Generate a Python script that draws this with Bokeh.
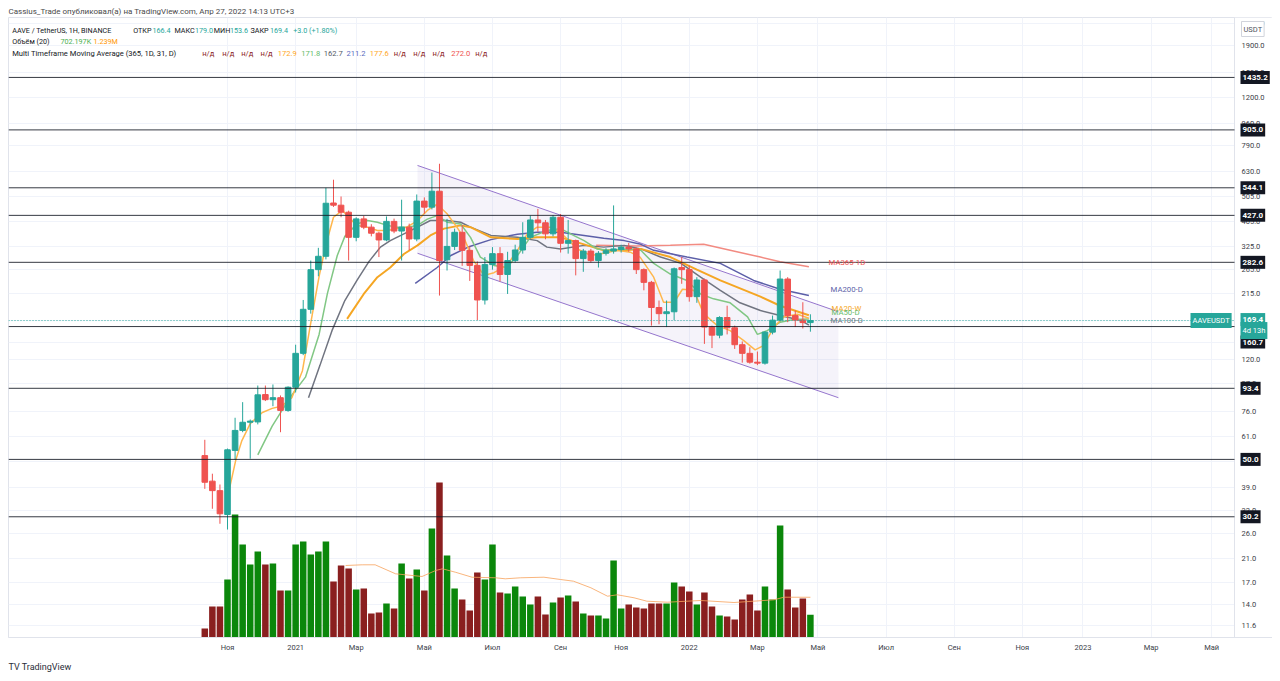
import math
from bokeh.plotting import figure
from bokeh.models import (Range1d, FixedTicker, PrintfTickFormatter, Span, Label, ColumnDataSource,
                          LinearScale, Title, BoxAnnotation)
from bokeh.embed import file_html
from bokeh.resources import INLINE

# ---------------- DATA (weekly AAVE/USDT, week 0 = 12 Oct 2020) ----------------
open_ = [51.7, 41.3, 38.0, 30.8, 54.1, 64.5, 69.3, 69.5, 88.4, 84.5,
         86.0, 76.9, 94.3, 127, 187, 265, 298, 476, 467, 439,
         352, 414, 385, 365, 344, 405, 372, 385, 347, 484,
         459, 528, 289, 325, 368, 314, 275, 203, 277, 305,
         254, 287, 315, 352, 410, 400, 363, 420, 334, 342,
         292, 312, 287, 306, 312, 316, 323, 318, 265, 237,
         190, 180, 183, 270, 265, 209, 242, 160, 149, 174,
         159, 137, 127, 117.5, 116.5, 153, 170, 244, 177, 170,
         166.4]
high = [59.4, 44.1, 40.1, 55.0, 72.1, 82.7, 71.0, 95.7, 95.7, 96.6,
        87.7, 95.0, 137, 203, 287, 321, 544, 584, 504, 445,
        420, 425, 395, 370, 423, 415, 490, 397, 513, 500,
        622, 672, 414, 380, 392, 325, 285, 296, 323, 323,
        310, 330, 402, 426, 452, 410, 428, 432, 410, 345,
        318, 318, 312, 320, 466, 330, 335, 322, 268, 240,
        202, 202, 270, 296, 275, 248, 245, 162, 176, 193,
        162, 141, 134, 129, 154, 177, 263, 248, 185, 199,
        179.0]
low = [38.6, 32.4, 28.4, 27.0, 49.8, 63.5, 50.3, 68.0, 83.5, 79.8,
       63.5, 76.0, 90, 125, 180, 250, 290, 460, 420, 287,
       340, 378, 355, 296, 340, 365, 287, 314, 340, 433,
       450, 211, 263, 315, 274, 240, 170, 195, 265, 239,
       214, 282, 305, 348, 370, 346, 355, 308, 305, 252,
       260, 282, 270, 300, 305, 308, 310, 255, 221, 162,
       164, 160, 170, 234, 200, 198, 138, 133, 145, 150,
       132, 117, 116, 114.5, 115, 150, 168, 167, 160, 158,
       153.6]
close = [40.9, 38.0, 31.0, 54.4, 64.5, 69.3, 70.0, 88.2, 84.5, 86.0,
         76.9, 94.3, 127, 187, 265, 298, 475, 467, 439, 352,
         414, 385, 365, 344, 405, 372, 385, 347, 484, 459,
         528, 287, 325, 368, 314, 275, 203, 277, 305, 254,
         287, 315, 352, 410, 400, 363, 420, 334, 342, 292,
         312, 287, 306, 313, 318, 323, 318, 265, 237, 190,
         180, 183, 267, 265, 209, 242, 160, 149, 174, 159,
         137, 127, 117.5, 116.5, 153, 170, 244, 177, 170, 166.4,
         169.4]
volume_k = [277, 955, 955, 1786, 3788, 2864, 2248, 2649, 2248, 2279,
            1448, 1448, 2864, 2957, 2556, 2649, 2957, 1725, 2218, 2125,
            1478, 1509, 739, 770, 1047, 893, 2279, 1817, 2094, 1448,
            3357, 4774, 2526, 1509, 1170, 832, 2002, 1786, 2864, 1386,
            1355, 1571, 1263, 1016, 1263, 708, 1078, 1232, 1294, 1109,
            739, 678, 678, 585, 2372, 893, 1016, 924, 893, 1047,
            1047, 1047, 1694, 1571, 1417, 1016, 1386, 955, 678, 647,
            554, 1170, 1324, 832, 1571, 1170, 3450, 1478, 924, 1201,
            702]
vol_ma_week = [18.6, 20.8, 22.5, 25.2, 28.7, 30.5, 31.4, 33.1, 35.3, 38.4, 39.7, 41.7, 44.8,
               47.0, 48.7, 51.0, 53.2, 54.5, 56.7, 58.4, 61.1, 65.5, 69.9, 72.5, 75.2, 76.5, 80.0]
vol_ma_k = [2218, 2239, 2239, 1962, 1879, 2064, 2116, 2011, 1857, 1839, 1808, 1839, 1857,
            1786, 1734, 1531, 1272, 1315, 1223, 1118, 1087, 1140, 1078, 1118, 1161, 1241, 1239]

# Moving averages (week index, price)
ma20d_week = [3.2, 4.1, 4.9, 6.0, 7.6, 8.9, 10.2, 11.5, 12.9, 13.9, 15.1, 16.0, 17.0, 18.2, 19.2,
              20.1, 21.5, 22.8, 24.1, 25.4, 26.7, 28.1, 29.4, 30.7, 32.0, 33.3, 34.2, 35.5, 36.9,
              38.2, 39.9, 41.3, 42.6, 43.9, 45.7, 47.4, 49.2, 51.0, 52.7, 54.5, 56.2, 57.5, 59.3,
              60.6, 62.0, 63.1, 64.6, 65.9, 67.7, 69.4, 71.2, 72.7, 73.8, 75.2, 76.5, 78.3, 79.8]
ma20d_val = [38, 49.8, 59, 68.5, 75.5, 78.3, 80, 86, 109, 160, 250, 330, 420, 446, 414,
             391, 385, 374, 374, 380, 385, 408, 446, 471, 433, 385, 352, 287, 252,
             258, 275, 314, 363, 385, 385, 358, 318, 300, 306, 314, 309, 296, 248,
             199, 199, 223, 221, 180, 162, 155, 142, 131, 136, 160, 175, 179, 172.9]
ma50d_week = [7.0, 8.9, 10.2, 11.5, 13.3, 15.1, 16.2, 17.5, 18.5, 20.1, 21.5, 22.8, 24.1, 25.4,
              26.7, 28.1, 29.4, 30.7, 32.0, 33.8, 35.1, 36.4, 38.2, 39.9, 41.3, 43.0, 45.2, 47.0,
              48.7, 50.1, 51.8, 53.6, 56.2, 57.6, 59.3, 61.5, 63.7, 65.5, 67.2, 69.4, 71.7, 73.0,
              74.3, 76.0, 77.8, 79.8]
ma50d_val = [52, 67, 77, 88, 103, 150, 215, 300, 355, 396, 408, 402, 391, 385,
             385, 391, 413, 426, 402, 396, 352, 296, 275, 270, 300, 352, 374, 380,
             358, 342, 318, 314, 318, 314, 280, 255, 241, 214, 205, 198, 175, 150,
             155, 167, 171, 171.8]
ma100d_week = [13.7, 15.2, 16.8, 18.5, 20.1, 21.7, 23.2, 24.5, 25.9, 28.1, 29.8, 32.0, 33.8, 35.1,
               37.8, 41.3, 43.9, 45.2, 47.0, 50.1, 52.7, 55.4, 57.6, 60.2, 62.9, 65.5, 68.1,
               70.7, 73.4, 76.0, 78.7, 79.8]
ma100d_val = [86, 114, 155, 202, 241, 285, 323, 342, 358, 385, 408, 408, 402, 385,
              358, 352, 342, 323, 318, 328, 323, 328, 318, 296, 280, 248, 221,
              198, 185, 177, 170, 162.7]
ma20w_week = [18.8, 21.0, 22.8, 24.5, 26.3, 28.1, 29.8, 31.6, 33.8, 35.1, 37.8, 41.3, 43.9, 47.0,
              50.1, 52.7, 55.4, 57.6, 61.5, 65.0, 68.1, 73.4, 76.0, 79.8]
ma20w_val = [172, 214, 248, 270, 304, 328, 358, 380, 391, 385, 352, 347, 352, 352,
             331, 314, 314, 318, 296, 265, 241, 209, 193, 177.6]
ma200d_week = [27.8, 30.7, 32.5, 35.0, 37.8, 41.3, 43.9, 47.0, 50.1, 52.7, 55.4, 57.6, 59.3,
               63.7, 68.1, 72.5, 76.0, 79.8]
ma200d_val = [235, 270, 300, 325, 345, 362, 368, 368, 358, 349, 342, 331, 314,
              296, 280, 241, 223, 211.2]
ma365_week = [51.7, 57.0, 61.5, 65.9, 69.4, 73.4, 76.0, 79.8]
ma365_val = [328, 326, 328, 331, 314, 296, 284, 272.0]

# Parallel channel drawing (week index, price)
channel_week = [28.1, 83.7]
channel_upper = [662, 183]
channel_lower = [306, 86]

levels = [1435.2, 905.0, 544.1, 427.0, 282.6, 160.7, 93.4, 50.0, 30.2]
last_price = 169.4

price_ticks = [2300, 1900, 1500, 1200, 960, 790, 630, 505, 405, 325, 265, 215, 170, 140,
               120, 97, 76, 61, 49, 39, 32, 26, 21, 17, 14, 11.6]
month_ticks = [3, 12, 20, 29, 38, 47, 55, 64, 73, 81, 90, 99, 108, 116, 125, 133]
month_labels = ["Ноя", "2021", "Мар", "Май", "Июл", "Сен", "Ноя", "2022", "Мар", "Май",
                "Июл", "Сен", "Ноя", "2023", "Мар", "Май"]

# ---------------- GEOMETRY ----------------
FONT = "Roboto"
FRAME_W, FRAME_H = 1264, 620          # frame also covers the price-scale strip
PAGE_LEFT, PAGE_TOP = 8, 17
SCALE_PX = 1234                       # left edge of the price scale strip
BAR0_PX = 204.3                       # page x of week 0
PX_WEEK = 7.57
PX_DEC = 262.0
LOG_TOP = math.log10(1900) + (45 - PAGE_TOP) / PX_DEC
LOG_BOT = LOG_TOP - FRAME_H / PX_DEC
X_START = (PAGE_LEFT - BAR0_PX) / PX_WEEK
X_END = (PAGE_LEFT + FRAME_W - BAR0_PX) / PX_WEEK
VOL_PER_PX = 30.8


def fx(px):
    return (px - BAR0_PX) / PX_WEEK


def fy(py):
    return 10 ** (LOG_TOP - (py - PAGE_TOP) / PX_DEC)


def py_of(price):
    return PAGE_TOP + (LOG_TOP - math.log10(price)) * PX_DEC


TEAL, RED = "#26a69a", "#ef5350"
VGREEN, VRED = "#0b870b", "#8a1f1f"
DARK = "#131722"
BORDER = "#e0e3eb"

p = figure(frame_width=FRAME_W, frame_height=FRAME_H,
           x_range=Range1d(X_START, X_END), y_range=Range1d(10 ** LOG_BOT, 10 ** LOG_TOP),
           y_axis_type="log", y_axis_location="right",
           output_backend="svg", toolbar_location=None,
           min_border_left=PAGE_LEFT, min_border_top=PAGE_TOP, min_border_bottom=44,
           min_border_right=0,
           background_fill_color="white", border_fill_color="white",
           outline_line_color=BORDER)
p.extra_y_ranges = {"vol": Range1d(0, FRAME_H * VOL_PER_PX)}
p.extra_y_scales = {"vol": LinearScale()}

# axes: price labels are drawn back over the scale strip with a negative standoff
p.yaxis.ticker = FixedTicker(ticks=price_ticks, minor_ticks=[])
p.yaxis.formatter = PrintfTickFormatter(format="%.1f")
p.xaxis.ticker = FixedTicker(ticks=month_ticks, minor_ticks=[])
p.xaxis.major_label_overrides = {t: l for t, l in zip(month_ticks, month_labels)}
for ax in (p.xaxis[0], p.yaxis[0]):
    ax.major_tick_line_color = None
    ax.minor_tick_line_color = None
    ax.major_tick_out = 0
    ax.major_tick_in = 0
    ax.minor_tick_out = 0
    ax.axis_line_color = BORDER
    ax.major_label_text_font = FONT
    ax.major_label_text_font_size = "7.5px"
    ax.major_label_text_color = "#3b3e48"
p.yaxis.major_label_standoff = -(PAGE_LEFT + FRAME_W - 1241)
p.xaxis.major_label_standoff = 5
p.xgrid.grid_line_color = "#f0f3fa"
p.ygrid.grid_line_color = "#f0f3fa"
p.xgrid.level = "image"
p.ygrid.level = "image"

# blank price-scale strip and its separator
p.add_layout(BoxAnnotation(left=fx(SCALE_PX), fill_color="white", fill_alpha=1.0, line_alpha=0,
                           level="underlay"))
p.add_layout(Span(location=fx(SCALE_PX), dimension="height", line_color=BORDER, line_width=1,
                  level="underlay"))

# header / footer
p.add_layout(Title(text="Cassius_Trade опубликовал(а) на TradingView.com, Апр 27, 2022 14:13 UTC+3",
                   align="left", text_font=FONT, text_font_size="8px", text_font_style="normal",
                   text_color="#4a4a4a", standoff=3), "above")
p.add_layout(Title(text="TV TradingView", align="left", text_font=FONT, text_font_size="9px",
                   text_font_style="normal", text_color="#2a2e39", standoff=10), "below")

# volume
vcol = [VGREEN if c >= o else VRED for o, c in zip(open_, close)]
weeks = list(range(len(close)))
p.vbar(x=weeks, top=volume_k, bottom=0, width=0.86, fill_color=vcol, line_color=None,
       y_range_name="vol")
p.line(vol_ma_week, vol_ma_k, line_color="#f7a35c", line_width=1, line_alpha=0.8, y_range_name="vol")

# channel
cx = [channel_week[0], channel_week[1], channel_week[1], channel_week[0]]
cy = [channel_upper[0], channel_upper[1], channel_lower[1], channel_lower[0]]
p.patch(cx, cy, fill_color="#9575cd", fill_alpha=0.09, line_alpha=0)
p.line(channel_week, channel_upper, line_color="#9575cd", line_width=1)
p.line(channel_week, channel_lower, line_color="#9575cd", line_width=1)

# moving averages
p.line(ma365_week, ma365_val, line_color="#f28b82", line_width=1.5)
p.line(ma200d_week, ma200d_val, line_color="#5c5fa8", line_width=1.5)
p.line(ma100d_week, ma100d_val, line_color="#707480", line_width=1.5)
p.line(ma20w_week, ma20w_val, line_color="#f5a623", line_width=2)
p.line(ma50d_week, ma50d_val, line_color="#81c784", line_width=1.5)
p.line(ma20d_week, ma20d_val, line_color="#ffb74d", line_width=1.5)

# candles
ccol = [TEAL if c >= o else RED for o, c in zip(open_, close)]
src = ColumnDataSource(dict(x=weeks, o=open_, h=high, l=low, c=close, col=ccol,
                            top=[max(o, c) for o, c in zip(open_, close)],
                            bot=[min(o, c) for o, c in zip(open_, close)]))
p.segment(x0="x", y0="l", x1="x", y1="h", line_color="col", line_width=1, source=src)
p.vbar(x="x", top="top", bottom="bot", width=0.74, fill_color="col", line_color="col", source=src)

# horizontal levels (ending at the price scale)
n = len(levels)
p.segment(x0=[X_START] * n, y0=levels, x1=[fx(SCALE_PX)] * n, y1=levels,
          line_color=DARK, line_width=1, line_alpha=0.85)
p.segment(x0=[X_START], y0=[last_price], x1=[fx(SCALE_PX)], y1=[last_price],
          line_color=TEAL, line_width=1, line_dash="1 2")


def txt(px, py, text, color=DARK, size="7.8px", bold=False, align="left", bg=None,
        border=None, pad=0):
    kw = {}
    if bg is not None:
        kw["background_fill_color"] = bg
    if border is not None:
        kw["border_line_color"] = border
    lab = Label(x=fx(px), y=fy(py), text=text, text_color=color, text_font=FONT,
                text_font_size=size, text_font_style="bold" if bold else "normal",
                text_align=align, text_baseline="middle", padding=pad, **kw)
    p.add_layout(lab)


# level labels on the price scale
level_py = {160.7: 341.5}
for lv in levels:
    txt(1240, level_py.get(lv, py_of(lv)), f"{lv:.1f}", color="white", bold=True, bg=DARK,
        size="8px", pad=(2, 4))
lp = py_of(last_price)
txt(1240, lp - 1, f"{last_price:.1f}", color="white", bold=True, bg=TEAL, size="8px", pad=(2, 4))
txt(1240, lp + 10, "4d 13h", color="white", size="7.5px", bg=TEAL, pad=(2, 4))
txt(1190, lp, "AAVEUSDT", color="white", size="7.5px", bg=TEAL, pad=(2, 3))
txt(1241, 28.5, "USDT", color="#50535e", size="7.5px", bg="white", border="#d1d4dc", pad=(2, 3))

# MA labels
txt(828, 262, "MA365-1D", color="#ef5350")
txt(830, 289, "MA200-D", color="#5c5fa8")
txt(831, 307.5, "MA20-W", color="#f5a623")
txt(831, 312, "MA50-D", color="#66bb6a")
txt(830, 319.5, "MA100-D", color="#707480")

# legend rows
row1 = [("AAVE / TetherUS, 1H, BINANCE", DARK, 11.7), ("ОТКР", DARK, 132.7), ("166.4", TEAL, 152),
        ("МАКС", DARK, 174), ("179.0", TEAL, 194.5), ("МИН", DARK, 213.3), ("153.6", TEAL, 229.5),
        ("ЗАКР", DARK, 250), ("169.4", TEAL, 269.5), ("+3.0 (+1.80%)", TEAL, 292.7)]
row2 = [("Объём (20)", DARK, 11.7), ("702.197K", "#4caf50", 60), ("1.239M", "#ff9800", 93)]
ND = "#8b2323"
row3 = [("Multi Timeframe Moving Average (365, 1D, 31, D)", DARK, 11.7),
        ("н/д", ND, 201.7), ("н/д", ND, 221.7), ("н/д", ND, 240.7), ("н/д", ND, 260),
        ("172.9", "#ffa726", 277.3), ("171.8", "#66bb6a", 300.7), ("162.7", "#555a66", 323.3),
        ("211.2", "#5c6bc0", 346), ("177.6", "#ffa726", 369.3), ("н/д", ND, 393.3),
        ("н/д", ND, 412.7), ("н/д", ND, 432), ("272.0", "#ef5350", 450.7), ("н/д", ND, 474.7)]
for row, py, fs in ((row1, 29.5, "7.2px"), (row2, 41, "7.2px"), (row3, 53, "7.6px")):
    for t, c, px in row:
        txt(px, py, t, color=c, size=fs)

open("out.html", "w").write(file_html(p, INLINE))
